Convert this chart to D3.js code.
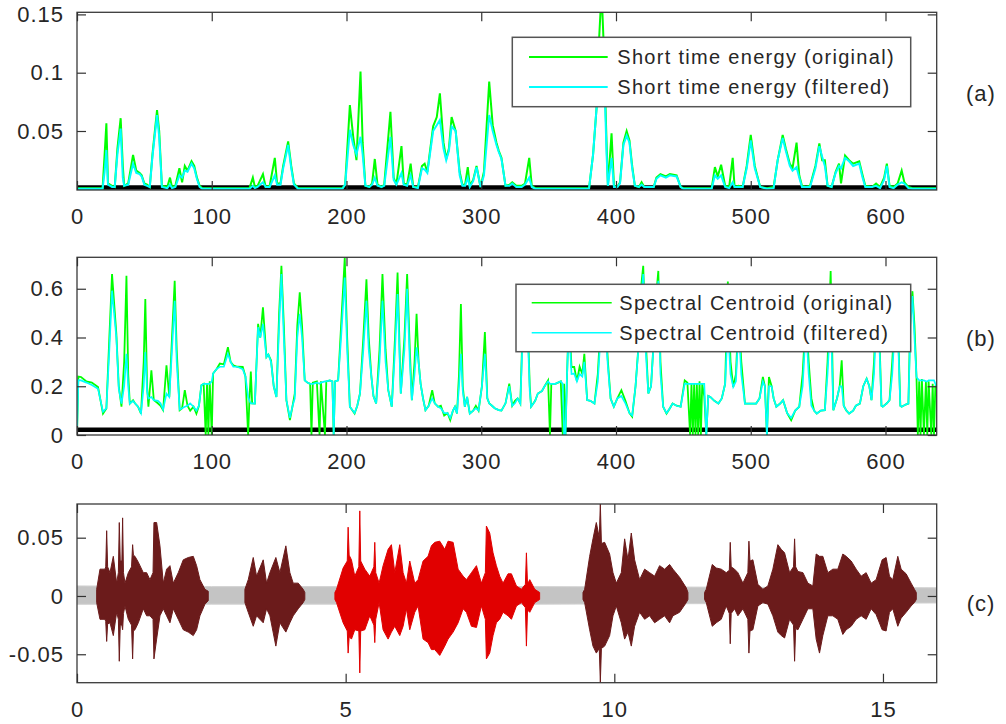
<!DOCTYPE html>
<html>
<head>
<meta charset="utf-8">
<script src="https://cdnjs.cloudflare.com/ajax/libs/d3/7.8.5/d3.min.js"></script>
<style>
  body { margin: 0; background: #fff; }
  svg { display: block; }
  text { font-family: "Liberation Sans", Arial, sans-serif; fill: #262626; }
</style>
</head>
<body>
<div class="container"></div>
<script>
/* ===== DATA ===== */

// short time energy: [frame, original, filtered]
var stePoints = [
  [0,0.001,0.0005],[19,0.001,0.0005],[20.5,0.03,0.015],[21.8,0.0566,0.0337],[23,0.005,0.004],
  [26,0.003,0.002],[28,0.002,0.002],[30,0.035,0.03],[32.4,0.061,0.052],[34,0.02,0.01],
  [35,0.003,0.003],[38,0.005,0.004],[41.6,0.0294,0.022],[44,0.016,0.014],[46.5,0.014,0.013],
  [48,0.012,0.011],[50,0.005,0.004],[52,0.004,0.003],[54,0.002,0.002],[56,0.03,0.028],
  [59.4,0.068,0.0637],[61,0.05,0.045],[63,0.003,0.002],[67,0.002,0.001],[69,0.01,0.004],
  [70.5,0.002,0.001],[73,0.003,0.002],[76,0.018,0.012],[78,0.006,0.01],[80,0.02,0.016],
  [82,0.016,0.015],[85,0.024,0.022],[87,0.02,0.018],[89,0.01,0.009],[91,0.003,0.002],
  [93,0.001,0.0005],
  [128,0.001,0.0005],[130.5,0.01,0.003],[132,0.002,0.001],[134,0.003,0.002],[138,0.013,0.006],
  [140,0.002,0.002],[143,0.003,0.002],[146.8,0.027,0.012],[148.5,0.005,0.004],[151,0.005,0.004],
  [153,0.02,0.018],[156.7,0.041,0.038],[159,0.02,0.018],[161,0.005,0.004],[164,0.001,0.0005],
  [197,0.001,0.0005],[199,0.004,0.004],[202.5,0.0723,0.051],[205,0.045,0.038],[207.4,0.025,0.03],
  [210.4,0.1009,0.045],[212,0.04,0.03],[214,0.003,0.003],[217,0.002,0.002],[219,0.005,0.004],
  [221,0.026,0.01],[223,0.004,0.003],[226,0.002,0.002],[228,0.004,0.003],[232.6,0.0665,0.045],
  [235,0.01,0.008],[237,0.004,0.004],[240.8,0.037,0.014],[242.5,0.005,0.004],[245,0.004,0.003],
  [247.6,0.022,0.012],[249.5,0.002,0.002],[253,0.002,0.001],[256,0.02,0.018],[258,0.022,0.017],
  [260,0.015,0.014],[264.3,0.054,0.05],[267,0.062,0.055],[269.3,0.0823,0.0594],[272,0.04,0.035],
  [274,0.026,0.025],[276,0.035,0.033],[278,0.062,0.054],[281,0.05,0.05],[284,0.015,0.012],
  [286,0.004,0.003],[288,0.004,0.003],[290,0.019,0.01],[291.5,0.003,0.002],[294,0.008,0.007],
  [296.5,0.02,0.019],[299.5,0.002,0.002],[302,0.015,0.012],[305.9,0.0923,0.0637],[308.5,0.055,0.05],
  [311.3,0.04,0.038],[313,0.033,0.032],[315,0.027,0.026],[318,0.003,0.003],[321,0.004,0.003],
  [323,0.006,0.005],[326,0.003,0.002],[330,0.003,0.002],[332.5,0.005,0.004],[335.6,0.027,0.01],
  [337.5,0.003,0.002],[340,0.001,0.0005],
  [380,0.001,0.0005],[383,0.03,0.03],[385.6,0.07,0.07],[387.5,0.13,0.12],[389.3,0.17,0.13],
  [391,0.12,0.11],[393,0.04,0.03],[394,0.003,0.003],[396.7,0.048,0.027],[398.5,0.003,0.002],
  [401,0.002,0.002],[403,0.006,0.005],[405.5,0.04,0.038],[407.9,0.05,0.046],[410,0.042,0.04],
  [412,0.02,0.018],[414,0.003,0.003],[417,0.002,0.002],[419,0.006,0.004],[421,0.002,0.002],
  [428,0.002,0.002],[430,0.01,0.009],[433,0.013,0.012],[437,0.011,0.01],[440,0.013,0.012],
  [445,0.012,0.011],[448,0.002,0.002],[450,0.001,0.0005],
  [471,0.001,0.0005],[473.4,0.019,0.012],[475.5,0.011,0.009],[478,0.021,0.012],[481,0.003,0.002],
  [484,0.002,0.001],[486.6,0.027,0.006],[488,0.002,0.002],[491,0.003,0.002],[494,0.002,0.002],
  [497,0.02,0.018],[500,0.0466,0.042],[503,0.02,0.018],[507,0.002,0.002],[512,0.001,0.0005],
  [517,0.002,0.001],[520,0.025,0.025],[523.7,0.0466,0.044],[526,0.035,0.033],[529,0.022,0.02],
  [531,0.018,0.016],[534,0.04,0.019],[536,0.012,0.01],[538,0.003,0.002],[541,0.002,0.002],
  [544,0.003,0.002],[548,0.02,0.018],[550.9,0.0394,0.037],[553,0.025,0.028],[555,0.025,0.02],
  [557,0.003,0.003],[560,0.002,0.002],[563,0.015,0.014],[565.5,0.022,0.02],[567,0.005,0.018],
  [570,0.029,0.027],[573,0.025,0.024],[576,0.022,0.02],[580.5,0.024,0.022],[583,0.012,0.01],
  [585,0.003,0.002],[590,0.002,0.002],[593,0.005,0.003],[596,0.002,0.001],[599,0.01,0.008],
  [601,0.022,0.02],[603,0.003,0.002],[606,0.002,0.001],[609,0.005,0.004],[612,0.016,0.006],
  [614,0.006,0.005],[617,0.002,0.001],[620,0.001,0.0005],[638,0.001,0.0005]
];

// spectral centroid: [frame, original, filtered]
var centroidPoints = [
  [0,0,0],[1,0.24,0.225],[3,0.238,0.224],[7,0.22,0.215],[11,0.215,0.205],[15.6,0.197,0.19],
  [19.3,0.088,0.095],[21.8,0.109,0.11],[24,0.4,0.35],[26,0.66,0.592],[29.2,0.415,0.4],
  [31,0.2,0.19],[33,0.116,0.129],[35,0.3,0.2],[36.7,0.653,0.333],[38,0.25,0.2],
  [39.2,0.129,0.129],[41.6,0.143,0.14],[43,0.13,0.13],[45.3,0.116,0.116],[47.5,0.088,0.09],
  [49.5,0.3,0.2],[50.7,0.558,0.34],[52,0.2,0.18],[53,0.116,0.15],[55.2,0.265,0.156],
  [57,0.143,0.143],[60,0.13,0.14],[62,0.12,0.13],[63.9,0.102,0.105],[66.4,0.286,0.17],
  [68.5,0.156,0.156],[70.5,0.4,0.35],[72.5,0.633,0.551],[74,0.35,0.3],[76.2,0.102,0.105],
  [78,0.11,0.11],[80,0.184,0.116],[82,0.12,0.12],[84,0.1,0.13],[86.5,0.116,0.116],
  [88.6,0.088,0.1],[90.5,0.12,0.12],[92.3,0.204,0.204],[94,0.21,0.21],[95.5,0,0.21],
  [96.5,0.21,0.21],[97.5,0,0.21],[98.5,0.22,0.21],[100,0,0.22],[101,0.252,0.252],
  [103.5,0.27,0.27],[106,0.293,0.28],[109,0.29,0.28],[112,0.36,0.333],[114,0.3,0.3],
  [116,0.286,0.28],[119,0.28,0.28],[123,0.279,0.27],[125,0.24,0.24],[127,0,0.156],
  [128,0.15,0.14],[129,0.26,0.13],[130,0.13,0.13],[132,0.129,0.129],[134.4,0.456,0.442],
  [136,0.4,0.4],[138,0.524,0.456],[140.6,0.32,0.32],[142,0.33,0.33],[144,0.306,0.3],
  [146,0.2,0.2],[148,0.156,0.156],[150,0.5,0.45],[151.7,0.694,0.66],[153.5,0.45,0.4],
  [155.4,0.143,0.143],[158,0.061,0.07],[160,0.12,0.12],[161.6,0.17,0.15],[163.5,0.45,0.4],
  [165.3,0.585,0.497],[167,0.45,0.4],[169,0.224,0.224],[171,0.215,0.215],[173,0.21,0.21],
  [174,0,0.21],[175,0.215,0.21],[178,0.22,0.215],[180,0,0.21],[181,0.22,0.215],
  [184,0,0.22],[185,0.22,0.22],[187.6,0.224,0.224],[189.5,0.22,0.22],[190.5,0,0],
  [191.5,0.22,0.22],[193.8,0.224,0.224],[196,0.45,0.4],[198.7,0.728,0.646],[200.5,0.4,0.35],
  [202.5,0.116,0.116],[206,0.088,0.09],[208,0.12,0.12],[210,0.17,0.17],[212.5,0.4,0.35],
  [214.8,0.639,0.551],[216.5,0.4,0.35],[218.5,0.238,0.238],[220,0.16,0.16],[222,0.129,0.129],
  [224.5,0.35,0.3],[226.7,0.66,0.551],[229,0.35,0.3],[231,0.184,0.184],[233.6,0.116,0.116],
  [236,0.4,0.35],[237.9,0.667,0.578],[240.3,0.17,0.17],[243,0.4,0.35],[245,0.66,0.6],
  [247,0.35,0.3],[248.5,0.143,0.143],[250.5,0.3,0.25],[252,0.497,0.36],[253.5,0.3,0.3],
  [255,0.21,0.21],[256.8,0.15,0.15],[258.6,0.102,0.102],[261,0.12,0.12],[263.6,0.184,0.15],
  [265.5,0.13,0.13],[268,0.116,0.116],[270,0.12,0.11],[272.5,0.08,0.09],[275,0.09,0.09],
  [277,0.061,0.07],[279,0.1,0.1],[280.5,0.116,0.116],[282,0.088,0.088],[283.5,0.25,0.2],
  [284.9,0.537,0.333],[286.3,0.2,0.18],[287.8,0.116,0.116],[289.5,0.156,0.156],[291.5,0.088,0.088],
  [294,0.1,0.1],[296,0.12,0.11],[298,0.1,0.1],[300.5,0.2,0.2],[302.7,0.422,0.333],
  [304.5,0.15,0.15],[306,0.129,0.129],[308,0.12,0.12],[310,0.11,0.11],[313,0.102,0.102],
  [315,0.1,0.1],[318,0.13,0.13],[320.8,0.211,0.2],[323,0.12,0.12],[325,0.14,0.13],
  [327,0.15,0.15],[329,0.129,0.129],[331,0.5,0.45],[334,0.55,0.5],[336,0.2,0.18],
  [337,0.116,0.116],[340,0.14,0.14],[342,0.17,0.17],[345,0.18,0.18],[347,0.2,0.2],
  [349.6,0.224,0.22],[351,0,0.21],[352,0.21,0.21],[355,0.21,0.21],[357,0.215,0.215],
  [359,0.22,0.22],[360.5,0,0.21],[361.5,0.21,0],[362.5,0,0],[363.5,0.21,0.22],
  [365,0.5,0.45],[367,0.279,0.25],[369,0.279,0.252],[371,0.22,0.22],[373,0.28,0.25],
  [375,0.25,0.24],[376.5,0.333,0.3],[378.6,0.143,0.143],[381,0.14,0.14],[384,0.129,0.129],
  [386.5,0.25,0.22],[389,0.5,0.45],[392,0.5,0.45],[394,0.3,0.28],[396,0.15,0.15],
  [398.4,0.116,0.116],[401,0.15,0.15],[404,0.184,0.16],[407,0.14,0.13],[410,0.09,0.09],
  [412,0.075,0.08],[414.5,0.2,0.2],[417,0.39,0.38],[418.5,0.6,0.55],[420.2,0.694,0.66],
  [422,0.4,0.35],[424,0.17,0.17],[426,0.2,0.2],[428,0.39,0.38],[429.5,0.55,0.5],
  [431.4,0.673,0.633],[433,0.3,0.25],[435,0.116,0.116],[437.5,0.088,0.09],[440,0.11,0.11],
  [442,0.129,0.129],[445,0.12,0.12],[448,0.116,0.116],[451,0.224,0.211],[453,0.215,0.21],
  [455,0,0.21],[456,0.21,0.21],[457,0,0.21],[458,0.21,0.21],[459,0,0.21],
  [460,0.21,0.21],[461,0,0.21],[462,0.22,0.21],[463,0,0.21],[464,0.21,0.21],
  [465.5,0.16,0.21],[467,0,0],[468.5,0.16,0.16],[470,0.156,0.156],[473,0.14,0.14],
  [476,0.129,0.129],[478.5,0.15,0.15],[481,0.21,0.21],[483,0.63,0.45],[485,0.3,0.25],
  [487,0.197,0.197],[489,0.25,0.22],[491,0.5,0.45],[493,0.3,0.25],[495.7,0.129,0.129],
  [499,0.129,0.129],[504,0.129,0.129],[506.5,0.15,0.15],[509,0.238,0.22],[510.5,0.2,0.2],
  [512,0,0],[513.5,0.238,0.2],[515.5,0.2,0.2],[517,0.15,0.15],[519,0.116,0.116],
  [522,0.13,0.13],[524,0.143,0.143],[527,0.09,0.09],[530,0.061,0.07],[533,0.1,0.1],
  [536,0.116,0.116],[538.5,0.25,0.2],[541,0.5,0.45],[543,0.3,0.25],[545,0.15,0.12],
  [547,0.1,0.1],[549,0.088,0.088],[552,0.1,0.1],[555,0.102,0.102],[557,0.3,0.25],
  [559.3,0.673,0.5],[561.3,0.102,0.102],[564,0.15,0.15],[566,0.2,0.2],[567.5,0.306,0.2],
  [569,0.12,0.12],[571,0.1,0.1],[573,0.088,0.088],[576,0.1,0.1],[578,0.12,0.12],
  [581,0.129,0.129],[583.5,0.2,0.2],[586,0.231,0.231],[588,0.2,0.2],[589.6,0.143,0.143],
  [591.5,0.3,0.25],[593,0.5,0.45],[595,0.5,0.45],[597,0.12,0.12],[598,0.116,0.116],
  [601,0.13,0.13],[603,0.143,0.143],[605,0.3,0.25],[607,0.5,0.45],[609,0.5,0.45],
  [611,0.12,0.12],[612,0.116,0.116],[615,0.125,0.125],[617,0.129,0.129],[618.5,0.5,0.45],
  [620,0.59,0.57],[621.5,0.45,0.4],[623,0.238,0.238],[624,0,0.23],[625,0.22,0.224],
  [626,0,0.224],[627,0.23,0.224],[628.5,0,0.224],[630,0.22,0.22],[631,0,0.22],
  [632,0.22,0.224],[634,0,0.224],[635,0.21,0.224],[636,0,0.224],[637,0.2,0.21],
  [638,0.21,0.2]
];

// waveform envelope: [time (s), upper, lower]
var waveEnvelope = [
  [0.366,0.0057,-0.0057],[0.428,0.023,-0.02],[0.521,0.023,-0.02],[0.535,0.025,-0.022],
  [0.552,0.056,-0.039],[0.57,0.025,-0.024],[0.614,0.02,-0.023],[0.676,0.034,-0.034],
  [0.738,0.011,-0.014],[0.77,0.02,-0.02],[0.787,0.063,-0.056],[0.805,0.03,-0.025],
  [0.835,0.03,-0.025],[0.849,0.067,-0.029],[0.865,0.02,-0.015],[0.893,0.011,-0.0086],
  [0.955,0.02,-0.02],[1.015,0.025,-0.025],[1.035,0.044,-0.054],[1.05,0.035,-0.03],
  [1.079,0.034,-0.029],[1.141,0.029,-0.023],[1.234,0.02,-0.011],[1.296,0.02,-0.017],
  [1.358,0.014,-0.017],[1.415,0.02,-0.02],[1.432,0.063,-0.054],[1.482,0.063,-0.037],
  [1.544,0.043,-0.017],[1.606,0.011,-0.011],[1.668,0.023,-0.017],[1.73,0.026,-0.023],
  [1.792,0.011,-0.011],[1.885,0.02,-0.02],[1.978,0.031,-0.029],[2.071,0.033,-0.031],
  [2.164,0.034,-0.034],[2.226,0.026,-0.029],[2.288,0.014,-0.017],[2.381,0.0057,-0.0071],
  [2.443,0.004,-0.004],

  [3.125,0.0057,-0.0057],[3.187,0.014,-0.014],[3.28,0.033,-0.026],[3.342,0.017,-0.017],
  [3.466,0.031,-0.023],[3.528,0.011,-0.011],[3.59,0.02,-0.017],[3.701,0.033,-0.043],
  [3.776,0.02,-0.023],[3.887,0.043,-0.031],[3.962,0.02,-0.023],[4.024,0.011,-0.017],
  [4.117,0.011,-0.011],[4.21,0.0057,-0.0057],[4.24,0.003,-0.003],

  [4.8,0.003,-0.003],[4.83,0.0057,-0.0057],[4.953,0.024,-0.023],[5.03,0.03,-0.03],
  [5.046,0.059,-0.049],[5.065,0.035,-0.035],[5.108,0.031,-0.037],[5.17,0.017,-0.029],
  [5.245,0.025,-0.03],[5.263,0.073,-0.066],[5.28,0.03,-0.03],[5.356,0.023,-0.029],
  [5.449,0.017,-0.017],[5.525,0.025,-0.025],[5.542,0.046,-0.04],[5.56,0.02,-0.02],
  [5.623,0.011,-0.0057],[5.697,0.026,-0.029],[5.79,0.04,-0.037],[5.852,0.044,-0.031],
  [5.914,0.02,-0.026],[6.007,0.044,-0.034],[6.069,0.02,-0.026],[6.131,0.011,-0.011],
  [6.193,0.03,-0.029],[6.286,0.011,-0.014],[6.348,0.014,-0.0086],[6.441,0.03,-0.037],
  [6.534,0.034,-0.04],[6.596,0.043,-0.046],[6.658,0.046,-0.046],[6.751,0.047,-0.051],
  [6.844,0.04,-0.043],[6.906,0.047,-0.037],[7,0.046,-0.031],[7.093,0.023,-0.023],
  [7.186,0.017,-0.011],[7.248,0.014,-0.014],[7.341,0.02,-0.026],[7.434,0.026,-0.027],
  [7.526,0.011,-0.0086],[7.6,0.02,-0.02],[7.619,0.06,-0.054],[7.681,0.054,-0.049],
  [7.743,0.037,-0.034],[7.805,0.026,-0.023],[7.867,0.017,-0.02],[7.929,0.011,-0.014],
  [8.022,0.019,-0.017],[8.085,0.019,-0.02],[8.178,0.0086,-0.0086],[8.271,0.0057,-0.0057],
  [8.345,0.01,-0.01],[8.364,0.037,-0.043],[8.385,0.01,-0.012],[8.426,0.014,-0.014],
  [8.519,0.0057,-0.0057],[8.61,0.003,-0.003],

  [9.417,0.003,-0.003],[9.448,0.0057,-0.0057],[9.541,0.034,-0.029],[9.603,0.049,-0.043],
  [9.665,0.063,-0.049],[9.72,0.05,-0.045],[9.74,0.079,-0.074],[9.76,0.045,-0.045],
  [9.82,0.046,-0.043],[9.913,0.036,-0.034],[9.975,0.02,-0.017],[10.037,0.011,-0.0086],
  [10.13,0.02,-0.023],[10.192,0.049,-0.037],[10.254,0.031,-0.031],[10.316,0.054,-0.043],
  [10.378,0.031,-0.026],[10.471,0.014,-0.014],[10.564,0.023,-0.02],[10.657,0.02,-0.017],
  [10.75,0.017,-0.023],[10.843,0.026,-0.02],[10.936,0.023,-0.017],[11.029,0.027,-0.023],
  [11.091,0.023,-0.017],[11.215,0.016,-0.014],[11.339,0.007,-0.0057],[11.37,0.003,-0.003],

  [11.68,0.003,-0.003],[11.711,0.0057,-0.0057],[11.823,0.027,-0.026],[11.897,0.024,-0.023],
  [11.99,0.023,-0.02],[12.083,0.02,-0.0086],[12.14,0.022,-0.015],[12.158,0.046,-0.041],
  [12.175,0.025,-0.015],[12.238,0.023,-0.011],[12.3,0.02,-0.017],[12.393,0.011,-0.011],
  [12.485,0.02,-0.02],[12.505,0.047,-0.049],[12.525,0.03,-0.03],[12.579,0.031,-0.029],
  [12.672,0.01,-0.0086],[12.765,0.0057,-0.0057],[12.858,0.0086,-0.007],[12.951,0.023,-0.017],
  [13.044,0.044,-0.031],[13.107,0.04,-0.034],[13.169,0.037,-0.036],[13.262,0.02,-0.02],
  [13.335,0.025,-0.025],[13.355,0.049,-0.056],[13.375,0.025,-0.028],[13.417,0.021,-0.029],
  [13.51,0.02,-0.02],[13.603,0.011,-0.011],[13.695,0.0086,-0.011],[13.757,0.036,-0.037],
  [13.819,0.034,-0.049],[13.881,0.034,-0.034],[13.974,0.02,-0.017],[14.067,0.023,-0.017],
  [14.16,0.023,-0.02],[14.253,0.036,-0.033],[14.315,0.034,-0.029],[14.408,0.03,-0.026],
  [14.501,0.023,-0.02],[14.594,0.017,-0.017],[14.687,0.02,-0.02],[14.78,0.011,-0.011],
  [14.873,0.014,-0.016],[14.985,0.031,-0.029],[15.059,0.033,-0.03],[15.121,0.017,-0.014],
  [15.183,0.014,-0.011],[15.276,0.034,-0.026],[15.338,0.023,-0.019],[15.431,0.019,-0.014],
  [15.524,0.011,-0.0086],[15.586,0.0057,-0.0057],[15.62,0.003,-0.003]
];

// background noise band: [time, upper, lower]
var noiseEnvelope = [[0,0.0086,-0.0071],[2.5,0.008,-0.007],[8.6,0.008,-0.007],[16,0.007,-0.006]];

// speech segments and how they are coloured
var segStart = [0.36, 3.12, 4.79, 9.41, 11.67];
var segEnd   = [2.45, 4.25, 8.62, 11.38, 15.63];
var segKind  = ['voiced', 'voiced', 'selected', 'voiced', 'voiced'];

var steThreshold = 0.0015;
var centroidThreshold = 0.022;

var frameTicks = [0, 100, 200, 300, 400, 500, 600];
var steTicks = [0.05, 0.1, 0.15];
var steTickLabels = ['0.05', '0.1', '0.15'];
var centroidTicks = [0, 0.2, 0.4, 0.6];
var centroidTickLabels = ['0', '0.2', '0.4', '0.6'];
var timeTicks = [0, 5, 10, 15];
var waveTicks = [-0.05, 0, 0.05];
var waveTickLabels = ['-0.05', '0', '0.05'];

var steLegend = ['Short time energy (original)', 'Short time energy (filtered)'];
var centroidLegend = ['Spectral Centroid (original)', 'Spectral Centroid (filtered)'];
var panelNames = ['(a)', '(b)', '(c)'];

buildChart();

function buildChart() {

  /* ===== SET UP CHART =====*/

  var w = 1006, h = 724;
  var left = 77, right = 936.7;
  var green = '#00ff00', cyan = '#00ffff';
  var waveColors = {voiced: '#6b1b1b', selected: '#e10000'};

  var svg = d3.select('.container')
    .append('svg')
    .attr('width', w)
    .attr('height', h);

  var xFrame = d3.scaleLinear().domain([0, 638]).range([left, right]);
  var ySte = d3.scaleLinear().domain([-0.0006, 0.1518]).range([190, 12.3]);
  var yCent = d3.scaleLinear().domain([0, 0.729]).range([435, 257.3]);
  var xTime = d3.scaleLinear().domain([0, 16]).range([left, right]);
  var yWave = d3.scaleLinear().domain([-0.0744, 0.0789]).range([682.7, 504]);

  /* ===== PANEL (a) ===== */

  var pa = plotArea('a', 12.3, 190);
  pa.append('line')
    .attr('x1', xFrame(0)).attr('x2', xFrame(638))
    .attr('y1', ySte(steThreshold)).attr('y2', ySte(steThreshold))
    .attr('stroke', '#000').attr('stroke-width', 4.5);
  pa.append('path').datum(stePoints)
    .attr('d', d3.line().x(function(d) { return xFrame(d[0]); }).y(function(d) { return ySte(d[1]); }))
    .attr('fill', 'none').attr('stroke', green).attr('stroke-width', 2);
  pa.append('path').datum(stePoints)
    .attr('d', d3.line().x(function(d) { return xFrame(d[0]); }).y(function(d) { return ySte(d[2]); }))
    .attr('fill', 'none').attr('stroke', cyan).attr('stroke-width', 2);
  axes(12.3, 190, xFrame, ySte, frameTicks, null, steTicks, steTickLabels);
  legend(512.3, 37.3, 910.7, 106.7, 529, 607.7, 617.3, [57, 87], steLegend, 2);

  /* ===== PANEL (b) ===== */

  var pb = plotArea('b', 257.3, 435);
  pb.append('line')
    .attr('x1', xFrame(0)).attr('x2', xFrame(638))
    .attr('y1', yCent(centroidThreshold)).attr('y2', yCent(centroidThreshold))
    .attr('stroke', '#000').attr('stroke-width', 4.5);
  pb.append('path').datum(centroidPoints)
    .attr('d', d3.line().x(function(d) { return xFrame(d[0]); }).y(function(d) { return yCent(d[1]); }))
    .attr('fill', 'none').attr('stroke', green).attr('stroke-width', 1.8);
  pb.append('path').datum(centroidPoints)
    .attr('d', d3.line().x(function(d) { return xFrame(d[0]); }).y(function(d) { return yCent(d[2]); }))
    .attr('fill', 'none').attr('stroke', cyan).attr('stroke-width', 1.7);
  axes(257.3, 435, xFrame, yCent, frameTicks, null, centroidTicks, centroidTickLabels);
  legend(516, 284.3, 910.7, 351.7, 531.7, 611.7, 619.3, [302.7, 332.7], centroidLegend, 1.6);

  /* ===== PANEL (c) ===== */

  var pc = plotArea('c', 504, 682.7);
  var envArea = d3.area()
    .x(function(d) { return xTime(d[0]); })
    .y0(function(d) { return yWave(d[2]); })
    .y1(function(d) { return yWave(d[1]); });

  pc.append('path').datum(noiseEnvelope)
    .attr('d', envArea)
    .attr('fill', '#c4c4c4').attr('stroke', '#d0d0d0').attr('stroke-width', 1);

  segStart.forEach(function(s, i) {
    var pts = waveEnvelope.filter(function(d) { return d[0] >= s && d[0] <= segEnd[i]; });
    var col = waveColors[segKind[i]];
    pc.append('path').datum(pts)
      .attr('d', envArea)
      .attr('fill', col).attr('stroke', col).attr('stroke-width', 1)
      .attr('stroke-linejoin', 'round');
  });
  axes(504, 682.7, xTime, yWave, timeTicks, null, waveTicks, waveTickLabels);

  /* ===== PANEL LABELS ===== */

  svg.selectAll('.panel-name')
    .data(panelNames)
    .enter()
    .append('text')
    .attr('class', 'panel-name')
    .attr('x', 981)
    .attr('y', function(d, i) { return [93, 338, 603][i]; })
    .attr('dy', '0.35em')
    .attr('text-anchor', 'middle')
    .style('font-size', '22px')
    .style('letter-spacing', '1px')
    .text(function(d) { return d; });

  /* ===== Functions ===== */

  function plotArea(id, top, bottom) {
    svg.append('clipPath').attr('id', 'clip-' + id)
      .append('rect')
      .attr('x', left).attr('y', top)
      .attr('width', right - left).attr('height', bottom - top);
    return svg.append('g').attr('clip-path', 'url(#clip-' + id + ')');
  }

  function styleAxis(g) {
    g.select('.domain').remove();
    g.attr('color', '#333')
      .attr('font-size', null)
      .attr('font-family', null);
    g.selectAll('line').attr('stroke-width', 1.2);
    g.selectAll('text')
      .style('font-size', '22px')
      .style('letter-spacing', '1px');
  }

  function axes(top, bottom, xScale, yScale, xTicks, xLabels, yTicks, yLabels) {
    svg.append('rect')
      .attr('x', left).attr('y', top)
      .attr('width', right - left).attr('height', bottom - top)
      .attr('fill', 'none').attr('stroke', '#3a3a3a').attr('stroke-width', 1.3);

    svg.append('g')
      .attr('transform', 'translate(0,' + bottom + ')')
      .call(d3.axisBottom(xScale).tickValues(xTicks).tickSize(-9).tickPadding(18.5)
        .tickFormat(function(d) { return d; }))
      .call(styleAxis);
    svg.append('g')
      .attr('transform', 'translate(0,' + top + ')')
      .call(d3.axisTop(xScale).tickValues(xTicks).tickSize(-9).tickFormat(''))
      .call(styleAxis);
    svg.append('g')
      .attr('transform', 'translate(' + left + ',0)')
      .call(d3.axisLeft(yScale).tickValues(yTicks).tickSize(-9).tickPadding(13)
        .tickFormat(function(d, i) { return yLabels[i]; }))
      .call(styleAxis);
    svg.append('g')
      .attr('transform', 'translate(' + right + ',0)')
      .call(d3.axisRight(yScale).tickValues(yTicks).tickSize(-9).tickFormat(''))
      .call(styleAxis);
  }

  function legend(x0, y0, x1, y1, lx0, lx1, tx, rows, labels, lw) {
    var g = svg.append('g');
    g.append('rect')
      .attr('x', x0).attr('y', y0)
      .attr('width', x1 - x0).attr('height', y1 - y0)
      .attr('fill', '#fff').attr('stroke', '#555').attr('stroke-width', 1.5);
    var colors = [green, cyan];
    labels.forEach(function(lab, i) {
      g.append('line')
        .attr('x1', lx0).attr('x2', lx1)
        .attr('y1', rows[i]).attr('y2', rows[i])
        .attr('stroke', colors[i]).attr('stroke-width', lw);
      g.append('text')
        .attr('x', tx).attr('y', rows[i])
        .attr('dy', '0.36em')
        .style('font-size', '20px')
        .style('letter-spacing', '1.3px')
        .text(lab);
    });
  }
}
</script>
</body>
</html>
